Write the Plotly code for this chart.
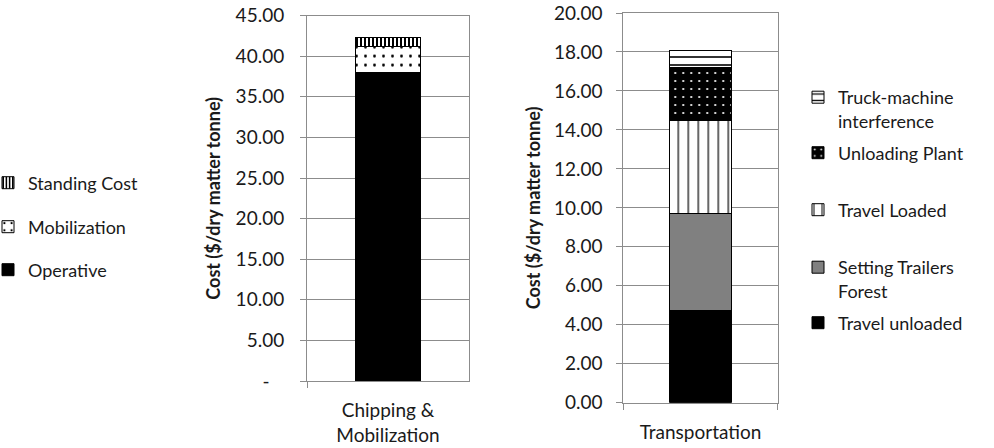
import plotly.graph_objects as go

# ---- data ----
left_category = ["Chipping &<br>Mobilization"]
left_series = ["Operative", "Mobilization", "Standing Cost"]
left_values = [37.95, 3.25, 1.05]
left_ticks = [0, 5, 10, 15, 20, 25, 30, 35, 40, 45]
left_ticktext = ["-\u00a0\u00a0\u00a0", "5.00", "10.00", "15.00", "20.00", "25.00", "30.00", "35.00", "40.00", "45.00"]

right_category = ["Transportation"]
right_series = ["Travel unloaded", "Setting Trailers<br>Forest", "Travel Loaded",
                "Unloading Plant", "Truck-machine<br>interference"]
right_values = [4.72, 4.98, 4.78, 2.72, 0.90]
right_ticks = [0, 2, 4, 6, 8, 10, 12, 14, 16, 18, 20]

# ---- styles ----
FONT = "Lato"
GRID = "#8c8c8c"
W, H = 994, 448


def px(x):
    return x / W


def py(y):
    return 1 - y / H


left_styles = [
    dict(color="black", pattern=dict(shape="")),
    dict(color="white", pattern=dict(shape=".", fgcolor="black", bgcolor="white", size=9, solidity=0.08, fillmode="replace")),
    dict(color="white", pattern=dict(shape="|", fgcolor="black", bgcolor="white", size=4, solidity=0.5, fillmode="replace")),
]
right_styles = [
    dict(color="black", pattern=dict(shape="")),
    dict(color="#808080", pattern=dict(shape="")),
    dict(color="white", pattern=dict(shape="|", fgcolor="black", bgcolor="white", size=10, solidity=0.12, fillmode="replace")),
    dict(color="black", pattern=dict(shape=".", fgcolor="white", bgcolor="black", size=8, solidity=0.06, fillmode="replace")),
    dict(color="white", pattern=dict(shape="-", fgcolor="black", bgcolor="white", size=8, solidity=0.2, fillmode="replace")),
]
LX = px(-12)
RX = px(798)
left_leg_pos = [(LX, py(270)), (LX, py(227)), (LX, py(183))]
right_leg_pos = [(RX, py(323)), (RX, py(279)), (RX, py(210)), (RX, py(153)), (RX, py(109))]

fig = go.Figure()
legends = {}
n = 1
for name, val, st, pos in zip(left_series, left_values, left_styles, left_leg_pos):
    lg = "legend" if n == 1 else f"legend{n}"
    fig.add_trace(go.Bar(
        x=left_category, y=[val], name=name, xaxis="x", yaxis="y",
        marker=dict(color=st["color"], pattern=st["pattern"], line=dict(color="black", width=1)),
        legend=lg, width=0.4, showlegend=True,
    ))
    legends[lg] = pos
    n += 1
for name, val, st, pos in zip(right_series, right_values, right_styles, right_leg_pos):
    lg = f"legend{n}"
    fig.add_trace(go.Bar(
        x=right_category, y=[val], name=name, xaxis="x2", yaxis="y2",
        marker=dict(color=st["color"], pattern=st["pattern"], line=dict(color="black", width=1)),
        legend=lg, width=0.4, showlegend=True,
    ))
    legends[lg] = pos
    n += 1

axis_common = dict(showline=True, linecolor=GRID, linewidth=1, mirror=True, automargin=False,
                   tickfont=dict(family=FONT, size=19, color="#1a1a1a"))
fig.update_layout(
    width=W, height=H, barmode="stack", showlegend=True,
    margin=dict(l=0, r=0, t=0, b=0, autoexpand=False),
    paper_bgcolor="white", plot_bgcolor="white",
    font=dict(family=FONT, size=19, color="#1a1a1a"),
    xaxis=dict(domain=[px(307), px(469)], anchor="y", type="category",
               tickson="boundaries", ticks="outside", ticklen=6, tickcolor=GRID,
               ticklabelstandoff=12, **axis_common),
    yaxis=dict(domain=[py(381), py(15.6)], anchor="x", range=[0, 45],
               tickvals=left_ticks, ticktext=left_ticktext, ticks="outside", ticklen=6,
               tickcolor=GRID, showgrid=True, gridcolor=GRID, gridwidth=1,
               ticklabelstandoff=12,
               title=dict(text="<b>Cost ($/dry matter tonne)</b>", font=dict(family=FONT, size=18),
                          standoff=10),
               **axis_common),
    xaxis2=dict(domain=[px(623.3), px(777.7)], anchor="y2", type="category",
                tickson="boundaries", ticks="outside", ticklen=6, tickcolor=GRID,
                ticklabelstandoff=12, **axis_common),
    yaxis2=dict(domain=[py(402.7), py(13)], anchor="x2", range=[0, 20],
                tickvals=right_ticks, tickformat=".2f", ticks="outside", ticklen=6,
                tickcolor=GRID, showgrid=True, gridcolor=GRID, gridwidth=1,
                ticklabelstandoff=10,
                title=dict(text="<b>Cost ($/dry matter tonne)</b>", font=dict(family=FONT, size=18),
                           standoff=8),
                **axis_common),
)
for lg, (x, y) in legends.items():
    fig.update_layout({lg: dict(x=x, y=y, xanchor="left", yanchor="middle", valign="top",
                                bgcolor="rgba(0,0,0,0)", itemwidth=30,
                                font=dict(family=FONT, size=18, color="#1a1a1a"))})

fig.write_html("out.html", config={"displayModeBar": False},
               post_script="document.body.style.margin='0';")
